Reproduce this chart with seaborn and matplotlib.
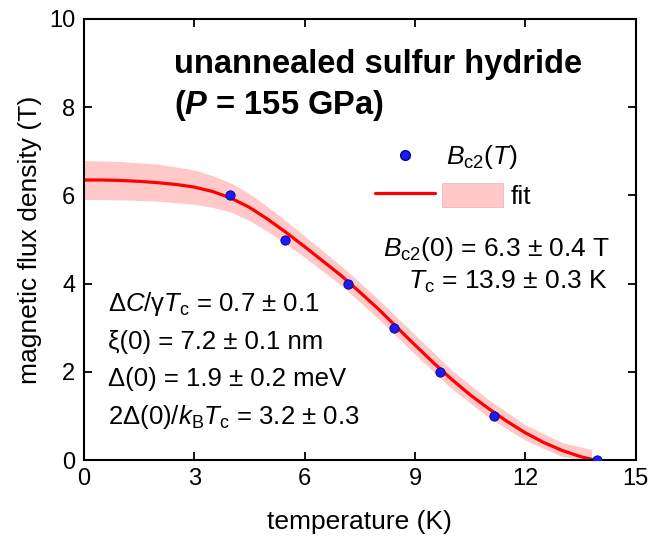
import numpy as np
import pandas as pd
import matplotlib
matplotlib.use("Agg")
import matplotlib.pyplot as plt
import seaborn as sns
from matplotlib.lines import Line2D
from matplotlib.patches import Patch
from matplotlib.legend_handler import HandlerTuple

# measured upper critical field
temp_K = [3.98, 5.47, 7.18, 8.43, 9.68, 11.14, 13.96]
bc2_T = [6.0, 5.0, 4.0, 3.0, 2.0, 1.0, 0.0]

# fit curve
fit_T = [0, 0.5, 1, 1.5, 2, 2.5, 3, 3.5, 4, 4.5, 5, 5.5, 6, 6.5, 7, 7.5,
         8, 8.5, 9, 9.5, 10, 10.5, 11, 11.5, 12, 12.5, 13, 13.5, 13.9]
fit_B = [6.35, 6.35, 6.34, 6.32, 6.29, 6.25, 6.19, 6.09, 5.94, 5.73, 5.46, 5.16,
         4.84, 4.51, 4.18, 3.81, 3.43, 3.02, 2.61, 2.21, 1.83, 1.48, 1.17, 0.88,
         0.62, 0.40, 0.22, 0.08, 0.0]

# confidence band of the fit
band_T = [0, 1, 2, 3, 3.5, 4, 4.5, 5, 5.5, 6, 7, 8, 9, 10, 11, 12, 13, 13.8]
band_hi = [6.79, 6.77, 6.71, 6.58, 6.45, 6.28, 6.04, 5.74, 5.42, 5.08, 4.40,
           3.65, 2.84, 2.04, 1.37, 0.80, 0.40, 0.24]
band_lo = [5.91, 5.90, 5.87, 5.80, 5.73, 5.62, 5.43, 5.18, 4.90, 4.60, 3.96,
           3.21, 2.40, 1.62, 0.97, 0.45, 0.08, 0.0]

x_ticks = [0, 3, 6, 9, 12, 15]
y_ticks = [0, 2, 4, 6, 8, 10]

pts = pd.DataFrame({"T": temp_K, "B": bc2_T})
fit = pd.DataFrame({"T": fit_T, "B": fit_B})

sns.set_theme(style="ticks")
plt.rcParams["font.family"] = ["Liberation Sans", "DejaVu Sans"]
plt.rcParams["mathtext.fontset"] = "custom"
plt.rcParams["mathtext.rm"] = "Liberation Sans"
plt.rcParams["mathtext.it"] = "Liberation Sans:italic"
plt.rcParams["mathtext.bf"] = "Liberation Sans:bold"
plt.rcParams["mathtext.bfit"] = "Liberation Sans:bold:italic"
plt.rcParams["text.color"] = "black"
plt.rcParams["axes.labelcolor"] = "black"

FS_TICK = 17
FS_LAB = 19
FS_TXT = 18.5
FS_TITLE = 23.5
BAND = "#ffc9c9"
RED = "#ff0000"
BLUE = "#1c1cf0"

fig = plt.figure(figsize=(6.65, 5.42), dpi=100)
ax = fig.add_axes([0.126, 0.151, 0.830, 0.814])

ax.fill_between(band_T, band_lo, band_hi, color=BAND, lw=0, zorder=1)
sns.lineplot(data=fit, x="T", y="B", color=RED, lw=2.3, ax=ax, zorder=2)
sns.scatterplot(data=pts, x="T", y="B", color=BLUE, edgecolor="#00008a",
                linewidth=0.6, s=45, ax=ax, zorder=3)

ax.set_xlim(0, 15)
ax.set_ylim(0, 10)
ax.set_xticks(x_ticks)
ax.set_yticks(y_ticks)
ax.tick_params(direction="in", length=6, width=1.3, labelsize=FS_TICK,
               top=True, right=True, colors="black", pad=6)
for s in ax.spines.values():
    s.set_linewidth(1.5)
    s.set_color("black")
ax.set_xlabel("temperature (K)", fontsize=FS_LAB, labelpad=14)
ax.set_ylabel("magnetic flux density (T)", fontsize=FS_LAB, labelpad=5)

# sample annotation
ax.text(0.163, 0.897, "unannealed sulfur hydride", transform=ax.transAxes,
        fontsize=FS_TITLE, fontweight="bold", va="center", ha="left")
ax.text(0.163, 0.805, r"($\mathbfit{P}$ = 155 GPa)", transform=ax.transAxes,
        fontsize=FS_TITLE, fontweight="bold", va="center", ha="left")

# legend: data points
h_pts = Line2D([], [], ls="none", marker="o", ms=7, color=BLUE,
               markeredgecolor="#00008a")
leg1 = ax.legend([h_pts], [r"$B_{\rm c2}(T)$"], loc="center left",
                 bbox_to_anchor=(0.535, 0.687), frameon=False, fontsize=FS_LAB,
                 handlelength=2.0, handletextpad=0.52, borderpad=0,
                 borderaxespad=0)
ax.add_artist(leg1)

# legend: fit line + band
h_line = Line2D([], [], color=RED, lw=2.3)
h_band = Patch(facecolor=BAND, edgecolor="#f0b8b8", lw=0.6)
ax.legend([(h_line, h_band)], ["fit"], loc="center left",
          bbox_to_anchor=(0.527, 0.599), frameon=False, fontsize=FS_LAB,
          handlelength=4.85, handleheight=1.06, handletextpad=0.3,
          borderpad=0, borderaxespad=0,
          handler_map={tuple: HandlerTuple(ndivide=None, pad=0.27)})

# fit parameters
ax.text(0.542, 0.478, r"$B_{\rm c2}$(0) = 6.3 ± 0.4 T", transform=ax.transAxes,
        fontsize=FS_LAB, va="center", ha="left")
ax.text(0.587, 0.403, r"$T_{\rm c}$ = 13.9 ± 0.3 K", transform=ax.transAxes,
        fontsize=FS_LAB, va="center", ha="left")

left_lines = [
    r"Δ$C$/γ$T_{\rm c}$ = 0.7 ± 0.1",
    "ξ(0) = 7.2 ± 0.1 nm",
    "Δ(0) = 1.9 ± 0.2 meV",
    r"2Δ(0)/$k_{\rm B}T_{\rm c}$ = 3.2 ± 0.3",
]
for i, line in enumerate(left_lines):
    ax.text(0.043, 0.354 - i * 0.0855, line, transform=ax.transAxes,
            fontsize=FS_TXT, va="center", ha="left")

fig.savefig("out.png", dpi=100)
